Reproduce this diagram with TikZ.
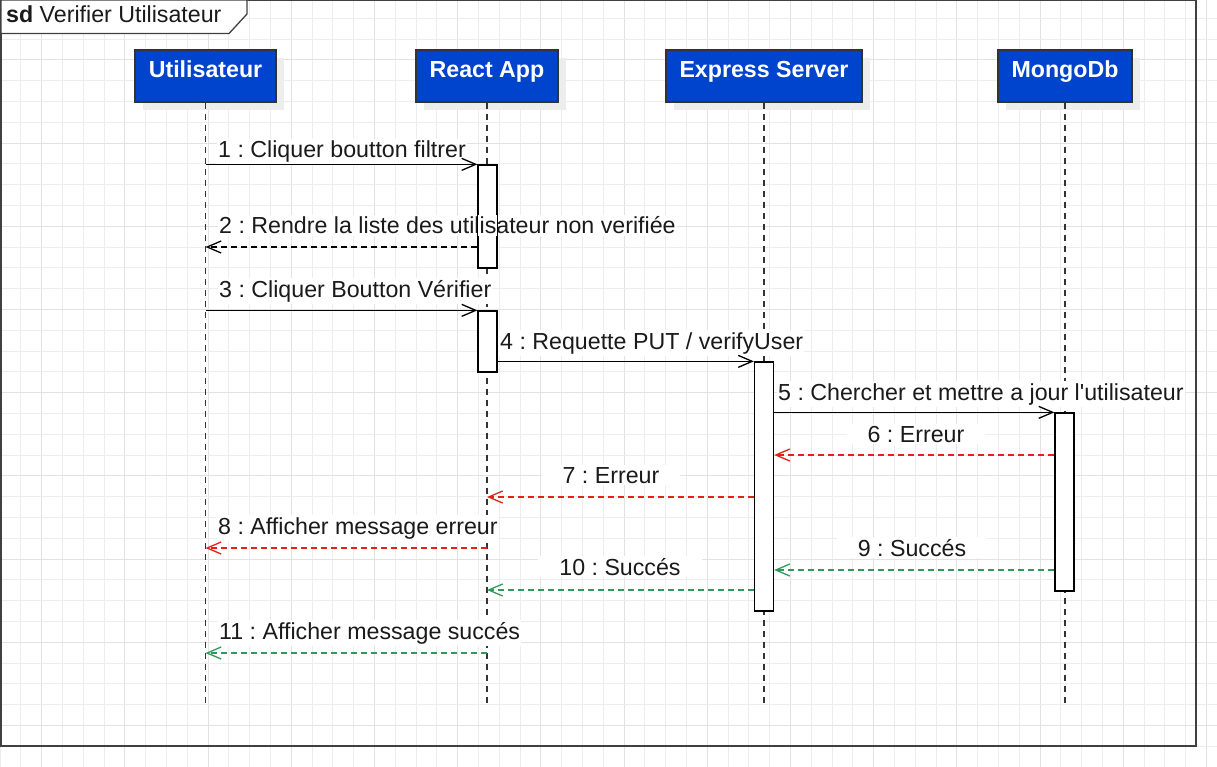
\documentclass[tikz,border=0pt]{standalone}
\usepackage{fontspec}
\setmainfont{Liberation Sans}
\newfontfamily\lsans{Liberation Sans}
\usetikzlibrary{arrows.meta,shadows}
\definecolor{boxblue}{HTML}{0043CC}
\definecolor{errred}{HTML}{E5201A}
\definecolor{okgreen}{HTML}{2E9A5E}
\definecolor{gridminor}{HTML}{EDEDED}
\definecolor{gridmajor}{HTML}{E2E2E2}
\definecolor{txt}{HTML}{1A1A1A}
\frenchspacing
\begin{document}
\begin{tikzpicture}[x=1pt,y=-1pt,
  actor/.style={draw=black!80, line width=1.2pt, fill=boxblue, text=white,
    font=\lsans\fontsize{23.2}{27}\selectfont\bfseries, minimum height=52pt,
    text height=17pt, text depth=14pt, inner sep=0pt,
    drop shadow={shadow xshift=8pt, shadow yshift=-8pt, fill=black!7, opacity=1}},
  lifeline/.style={draw=black!80, line width=1.3pt, dash pattern=on 6pt off 5pt},
  bar/.style={draw=black, line width=1.3pt, fill=white, minimum width=19pt, inner sep=0pt},
  lbl/.style={font=\lsans\fontsize{23.2}{27}\selectfont, text=txt, inner xsep=1pt, inner ysep=2pt, fill=white},
  clbl/.style={lbl, inner xsep=21pt},
  tip/.style={-{Straight Barb[length=14pt,width=12pt,line width=1.3pt]}},
  msg/.style={tip, draw=black, line width=1.3pt},
  ret/.style={tip, line width=1.3pt, dash pattern=on 6pt off 4pt},
]
\useasboundingbox (0,0) rectangle (1217,767);
\fill[white] (0,0) rectangle (1217,767);
% grid
\foreach \k in {0,...,58} {
  \pgfmathtruncatemacro{\m}{mod(\k,4)}
  \ifnum\m=2 \draw[gridmajor, line width=1pt] (20.8*\k,0) -- (20.8*\k,767);
  \else \draw[gridminor, line width=1pt] (20.8*\k,0) -- (20.8*\k,767); \fi
}
\foreach \k in {1,...,37} {
  \pgfmathtruncatemacro{\m}{mod(\k,4)}
  \ifnum\m=3 \draw[gridmajor, line width=1pt] (0,20.8*\k-2.5) -- (1217,20.8*\k-2.5);
  \else \draw[gridminor, line width=1pt] (0,20.8*\k-2.5) -- (1217,20.8*\k-2.5); \fi
}
% frame
\draw[black!75, line width=1.6pt] (1,0) rectangle (1196,746);
\draw[black!75, line width=1.3pt, fill=white] (1,0) -- (247,0) -- (247,14) -- (229,33.5) -- (1,33.5) -- cycle;
\node[anchor=base west, font=\lsans\fontsize{23.2}{27}\selectfont, text=txt, inner sep=0pt] (title) at (6,22.7) {\textbf{sd} Verifier Utilisateur};
% actors
\node[actor, minimum width=141pt] (u) at (205.5,76) {Utilisateur};
\node[actor, minimum width=142pt] (r) at (487,76) {React App};
\node[actor, minimum width=196pt] (e) at (764,76) {Express Server};
\node[actor, minimum width=134pt] (m) at (1065,76) {MongoDb};
\coordinate (uEnd) at (205.5,705);
\coordinate (rEnd) at (487,705);
\coordinate (eEnd) at (764,705);
\coordinate (mEnd) at (1065,705);
\draw[lifeline] (u.south) -- (uEnd);
\draw[lifeline] (r.south) -- (rEnd);
\draw[lifeline] (e.south) -- (eEnd);
\draw[lifeline] (m.south) -- (mEnd);
% activation bars
\node[bar, minimum height=103pt] (ra1) at (487.5,216.5) {};
\node[bar, minimum height=61pt] (ra2) at (487.5,341.5) {};
\node[bar, minimum height=249pt] (ea) at (764,486.5) {};
\node[bar, minimum height=178pt] (ma) at (1064.5,502) {};
% message levels
\coordinate (y2) at (0,247);
\coordinate (y6) at (0,455);
\coordinate (y7) at (0,497);
\coordinate (y8) at (0,548);
\coordinate (y9) at (0,570);
\coordinate (y10) at (0,590);
\coordinate (y11) at (0,653);
% labels
\node[lbl, anchor=base west] (l1) at (217,158) {1 : Cliquer boutton filtrer};
\node[lbl, anchor=base west] (l2) at (218,234) {2 : Rendre la liste des utilisateur non verifiée};
\node[lbl, anchor=base west] (l3) at (218,297) {3 : Cliquer Boutton Vérifier};
\node[lbl, anchor=base west] (l4) at (499,349) {4 : Requette PUT / verifyUser};
\node[lbl, anchor=base west] (l5) at (777,400) {5 : Chercher et mettre a jour l'utilisateur};
\node[clbl, anchor=base] (l6) at (916,442) {6 : Erreur};
\node[clbl, anchor=base] (l7) at (611,483) {7 : Erreur};
\node[lbl, anchor=base west] (l8) at (217,534) {8 : Afficher message erreur};
\node[clbl, anchor=base] (l9) at (912,556) {9 : Succés};
\node[clbl, anchor=base] (l10) at (620,575) {10 : Succés};
\node[lbl, anchor=base west] (l11) at (218,639) {11 : Afficher message succés};
% redraw bar outline crossing label 2
\draw[black, line width=1.3pt] (ra1.north west) rectangle (ra1.south east);
% messages
\draw[msg] (u.south |- ra1.north west) -- (ra1.north west);
\draw[ret, draw=black] (ra1.west |- y2) -- (u.south |- y2);
\draw[msg] (u.south |- ra2.north west) -- (ra2.north west);
\draw[msg] (ra2.east |- ea.north) -- (ea.north west);
\draw[msg] (ea.east |- ma.north) -- (ma.north west);
\draw[ret, draw=errred] (ma.west |- y6) -- (ea.east |- y6);
\draw[ret, draw=errred] (ea.west |- y7) -- (r.south |- y7);
\draw[ret, draw=errred] (r.south |- y8) -- (u.south |- y8);
\draw[ret, draw=okgreen] (ma.west |- y9) -- (ea.east |- y9);
\draw[ret, draw=okgreen] (ea.west |- y10) -- (r.south |- y10);
\draw[ret, draw=okgreen] (r.south |- y11) -- (u.south |- y11);
\end{tikzpicture}
\end{document}
